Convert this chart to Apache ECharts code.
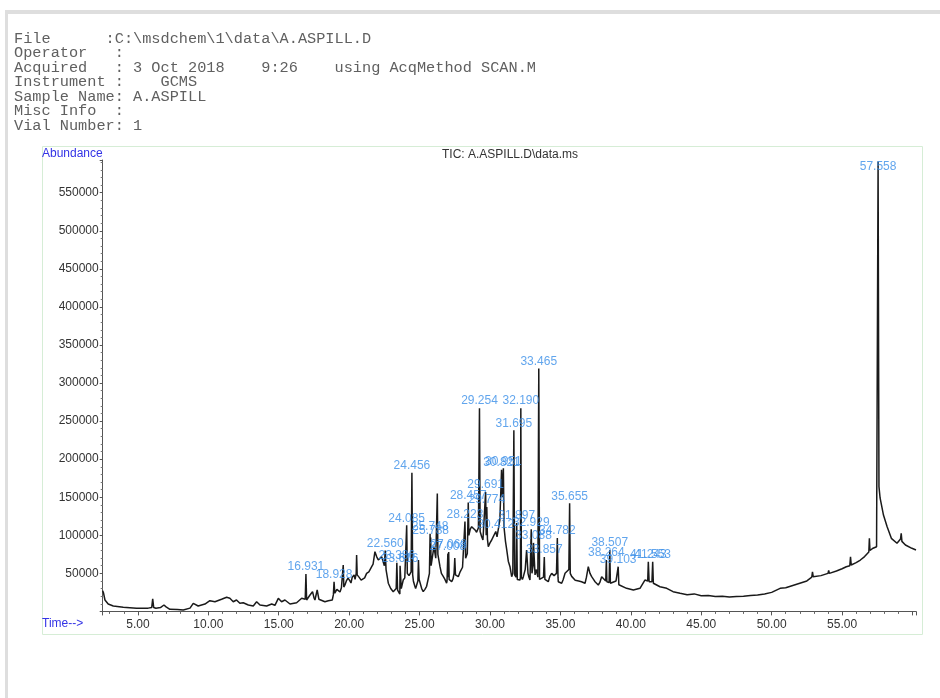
<!DOCTYPE html>
<html><head><meta charset="utf-8">
<script src="https://cdn.jsdelivr.net/npm/echarts@6/dist/echarts.min.js"></script>
<style>html,body{margin:0;padding:0;background:#fff}#c{width:940px;height:698px}</style>
</head><body><div id="c"></div>
<script>
// ---------------- data ----------------
const headerLines = [
  'File      :C:\\msdchem\\1\\data\\A.ASPILL.D',
  'Operator   :',
  'Acquired   : 3 Oct 2018    9:26    using AcqMethod SCAN.M',
  'Instrument :    GCMS',
  'Sample Name: A.ASPILL',
  'Misc Info  :',
  'Vial Number: 1'
];
const chartTitle = 'TIC: A.ASPILL.D\\data.ms';
const yAxisName = 'Abundance';
const xAxisName = 'Time-->';

// TIC trace (retention time in min, abundance): baseline and minor spikes
const ticEarly = [
  [2.50,27000],[2.56,24000],[2.66,15000],[2.89,9700],[3.25,7100],[3.96,5400],[4.90,4100],[5.73,4300],
  [5.98,5000],[6.05,16500],[6.12,5200],[6.28,4200],[6.60,5000],[6.85,8400],[7.00,6000],[7.27,2800],
  [7.80,2500],[8.22,1800],[8.70,4300],[8.93,10600],[9.28,7100],[9.76,9700],[10.11,14000],[10.47,12700],
  [10.94,15900],[11.30,18500],[11.53,17200],[11.77,12700],[12.00,15000],[12.24,10600],[12.48,11300],
  [12.84,8400],[13.19,7100],[13.43,12700],[13.67,8400],[14.14,7100],[14.50,9700],[14.73,8000],
  [14.97,17200],[15.20,12700],[15.44,15000],[15.80,9700],[16.27,11400],[16.63,17200],[16.88,16000],
  [16.98,15000],[17.22,21500],[17.40,25900],[17.50,18000],[17.57,15000],[17.73,28100],[17.85,16000],
  [17.93,14000],[18.28,12700],[18.52,14000],[18.80,15000],[18.88,22000],[18.98,24000],[19.13,29000],
  [19.25,27000],[19.35,25500],[19.45,31000],[19.55,30000],[19.58,61000],[19.62,32000],[19.70,34700],
  [19.80,40000],[19.92,43800],[20.02,41000],[20.13,37300],[20.22,45000],[20.35,47800],[20.42,42000],
  [20.50,50000],[20.53,74000],[20.57,48000],[20.70,45000],[20.85,41000],[20.98,38600],[21.10,44000],
  [21.24,50000],[21.40,52000],[21.50,50000],[21.60,58700],[21.70,62000],[21.83,78400],[21.95,72000],
  [22.07,67500],[22.20,66000],[22.31,71900],[22.40,74000],[22.50,60000],[22.62,55000],[22.78,37000],
  [22.95,30000]
];
const ticMiddle = [
  [23.13,25900],[23.25,27000],[23.34,30000],[23.44,28000],[23.50,26000],[23.60,22800],[23.70,30000],
  [23.84,41200],[23.95,44000],[24.04,45000],[24.13,50000],[24.25,47000],[24.40,52000],[24.51,48000],
  [24.56,40000],[24.65,34000],[24.72,30000],[24.80,28000],[24.88,40000],[24.92,67500],[24.97,42000],
  [25.03,41000],[25.15,30000],[25.26,26000],[25.38,29000],[25.50,33000],[25.70,50000],[25.77,60000],
  [25.82,60000],[26.02,85000],[26.15,70000],[26.22,72000],[26.26,155000],[26.30,75000],[26.45,58700],
  [26.55,50000],[26.69,45600],[26.80,42000],[26.92,37000],[26.95,40000],[27.03,45000],[27.10,42000],
  [27.18,44000],[27.28,39000],[27.38,43000],[27.45,50000],[27.50,70000],[27.55,48000],[27.65,47000],
  [27.75,45600],[27.88,52000],[27.99,54000],[28.05,58000],[28.15,60000],[28.27,70000],[28.39,76000],
  [28.50,100000],[28.60,108000],[28.70,111300],[28.80,112000],[28.94,107000],[29.05,104000],
  [29.18,110000],[29.30,105000],[29.41,98000],[29.50,94000],[29.60,92000],[29.73,100000],[29.82,95000],
  [29.88,85000],[30.00,90000],[30.12,93800],[30.20,97000],[30.30,95000],[30.50,98000],[30.60,100000],
  [30.70,120000],[30.88,150000],[31.00,110000],[31.10,92000],[31.19,80700],[31.30,66000],[31.42,58700],
  [31.54,45600],[31.62,50000],[31.75,48000],[31.85,45000],[31.94,42000],[32.05,44000],[32.13,41200],
  [32.16,45000],[32.23,45000],[32.30,42000],[32.37,45600],[32.50,55000],[32.60,80700],[32.70,50000],
  [32.75,46000],[32.84,41200],[32.98,50000],[33.06,60000],[33.20,48000],[33.30,55000],[33.40,45000],
  [33.52,42000],[33.55,41200],[33.80,45000],[33.90,42000],[34.00,44000],[34.14,39000],[34.25,46000],
  [34.38,50000],[34.55,47000],[34.72,50000],[34.83,45000],[34.85,39000],[35.09,37000],[35.20,42000],
  [35.33,50000],[35.45,52000],[35.60,55000],[35.70,50000],[35.80,46000],[35.92,43500],[36.05,41000],
  [36.16,39000],[36.30,40000],[36.50,39000],[36.75,37000],[36.85,45000],[36.98,58700],[37.10,50000],
  [37.22,45600],[37.35,42000],[37.46,39000],[37.69,34700],[37.80,38000],[37.93,45600],[38.22,40000],
  [38.30,39000],[38.46,38000],[38.55,37000],[38.64,39000],[38.95,40000],[39.15,35000],[39.23,32400],
  [39.70,30300],[40.18,28000],[40.65,30300],[41.00,41200],[41.20,40000],[41.30,39000],[41.50,39000],
  [41.60,37000],[41.72,37000],[42.07,32400],[42.55,30300],[43.00,25900],[43.50,23800]
];
const ticLate = [
  [44.00,22000],[44.50,23000],[45.00,20500],[45.50,21000],[46.00,19500],[46.50,20000],[47.00,19000],
  [47.50,19500],[48.00,20000],[48.50,21000],[49.00,21500],[49.50,23000],[50.00,25000],[50.60,30300],
  [51.00,31000],[51.50,34000],[52.00,37000],[52.50,40000],[52.85,45000],[52.90,52000],[52.95,45600],
  [53.50,47000],[54.00,50000],[54.05,54000],[54.10,50000],[54.60,53000],[55.00,56000],[55.30,58700],
  [55.55,60000],[55.60,71800],[55.65,61000],[56.00,64000],[56.30,67500],[56.60,72000],[56.90,78000],
  [56.94,96000],[56.98,80000],[57.20,83000],[57.45,85000],[57.62,164000],[57.70,149000],[57.94,126600],
  [58.20,111300],[58.50,96000],[58.90,89500],[59.15,95000],[59.20,102600],[59.25,92000],[59.50,87200],
  [59.96,82900],[60.25,80700]
];

// labelled (integrated) peaks
const peakLabels = ['16.931','18.928','22.560','23.386','23.616','24.085','24.456','25.748','25.788',
  '27.008','27.068','28.223','28.457','29.254','29.691','29.774','30.412','30.821','30.951','31.695',
  '31.897','32.190','32.929','33.088','33.465','33.857','34.782','35.655','38.264','38.507','39.103',
  '41.243','41.553','57.558'];
const peakTimes = [16.931,18.928,22.560,23.386,23.616,24.085,24.456,25.748,25.788,27.008,27.068,28.223,
  28.457,29.254,29.691,29.774,30.412,30.821,30.951,31.695,31.897,32.190,32.929,33.088,33.465,33.857,
  34.782,35.655,38.264,38.507,39.103,41.243,41.553,57.558];
const peakHeights = [49000,39000,80000,64000,60000,113000,182000,102000,97000,76000,78000,118000,143000,
  267000,157000,137000,105000,186000,188000,238000,116000,267000,108000,90000,319000,71500,96400,
  142000,67500,80700,58700,65300,65300,591000];

const xMin = 2.5, xMax = 60.25, xStep = 5;
const yMin = 0, yMax = 593000, yStep = 50000;

// ---------------- build ----------------
const peakPoints = peakTimes.map((t, i) => [t, peakHeights[i]]);
const trace = ticEarly.concat(ticMiddle, ticLate, peakPoints).sort((a, b) => a[0] - b[0]);

const chart = echarts.init(document.getElementById('c'), null, {renderer: 'canvas'});
const SANS = '"Liberation Sans", Arial, sans-serif';
const MONO = '"Liberation Mono", "Courier New", monospace';

const graphics = [
  {type: 'rect', shape: {x: 5, y: 10, width: 940, height: 4}, style: {fill: '#dedede'}, silent: true},
  {type: 'rect', shape: {x: 5, y: 10, width: 3, height: 700}, style: {fill: '#dedede'}, silent: true},
  {type: 'rect', shape: {x: 42.5, y: 146.5, width: 880, height: 488}, style: {fill: 'none', stroke: '#d6edd6', lineWidth: 1}, silent: true},
  {type: 'text', x: 510, y: 155, style: {text: chartTitle, font: '12px ' + SANS, fill: '#333', align: 'center', verticalAlign: 'middle'}},
  {type: 'text', x: 42, y: 154, style: {text: yAxisName, font: '12px ' + SANS, fill: '#3333e6', align: 'left', verticalAlign: 'middle'}},
  {type: 'text', x: 42, y: 624, style: {text: xAxisName, font: '12px ' + SANS, fill: '#3333e6', align: 'left', verticalAlign: 'middle'}}
];
headerLines.forEach((line, i) => {
  graphics.push({type: 'text', x: 14, y: 39 + i * 14.5, scaleX: 1.09,
    style: {text: line, font: '14px ' + MONO, fill: '#606060', align: 'left', verticalAlign: 'middle'}});
});

chart.setOption({
  animation: false,
  grid: {left: 102.7, right: 24, top: 160, bottom: 86.6, containLabel: false},
  xAxis: {
    type: 'value', min: xMin, max: xMax, minInterval: xStep, maxInterval: xStep, splitNumber: 12,
    axisLine: {lineStyle: {color: '#555', width: 1}},
    axisTick: {show: true, length: 4, lineStyle: {color: '#555'}},
    minorTick: {show: true, splitNumber: 5, length: 2.5, lineStyle: {color: '#666'}},
    splitLine: {show: false},
    axisLabel: {color: '#333', fontSize: 12, fontFamily: SANS, margin: 7, showMinLabel: false, showMaxLabel: false,
      formatter: v => (Math.abs(v / xStep - Math.round(v / xStep)) < 1e-6 && v >= 5 && v <= 55) ? v.toFixed(2) : ''}
  },
  yAxis: {
    type: 'value', min: yMin, max: yMax, interval: yStep,
    axisLine: {show: true, lineStyle: {color: '#555', width: 1}},
    axisTick: {show: true, length: 3, lineStyle: {color: '#555'}},
    minorTick: {show: true, splitNumber: 5, length: 2, lineStyle: {color: '#777'}},
    splitLine: {show: false},
    axisLabel: {color: '#333', fontSize: 12, fontFamily: SANS, margin: 4, showMinLabel: false, showMaxLabel: false,
      formatter: v => String(v)}
  },
  graphic: graphics,
  series: [
    {type: 'line', data: trace, showSymbol: false, symbol: 'none', smooth: false,
      lineStyle: {color: '#1a1a1a', width: 1.5}, z: 2, silent: true},
    {type: 'scatter', data: peakPoints.map(p => ({
        value: p,
        label: p[1] > yMax * 0.95 ? {position: 'bottom', distance: -1} : undefined
      })),
      symbolSize: 0, z: 3, silent: true,
      label: {show: true, position: 'top', distance: 1, color: '#3a8fe8', fontSize: 12, fontFamily: SANS,
        formatter: p => peakLabels[p.dataIndex]},
      labelLayout: {hideOverlap: false}}
  ]
});
</script></body></html>
